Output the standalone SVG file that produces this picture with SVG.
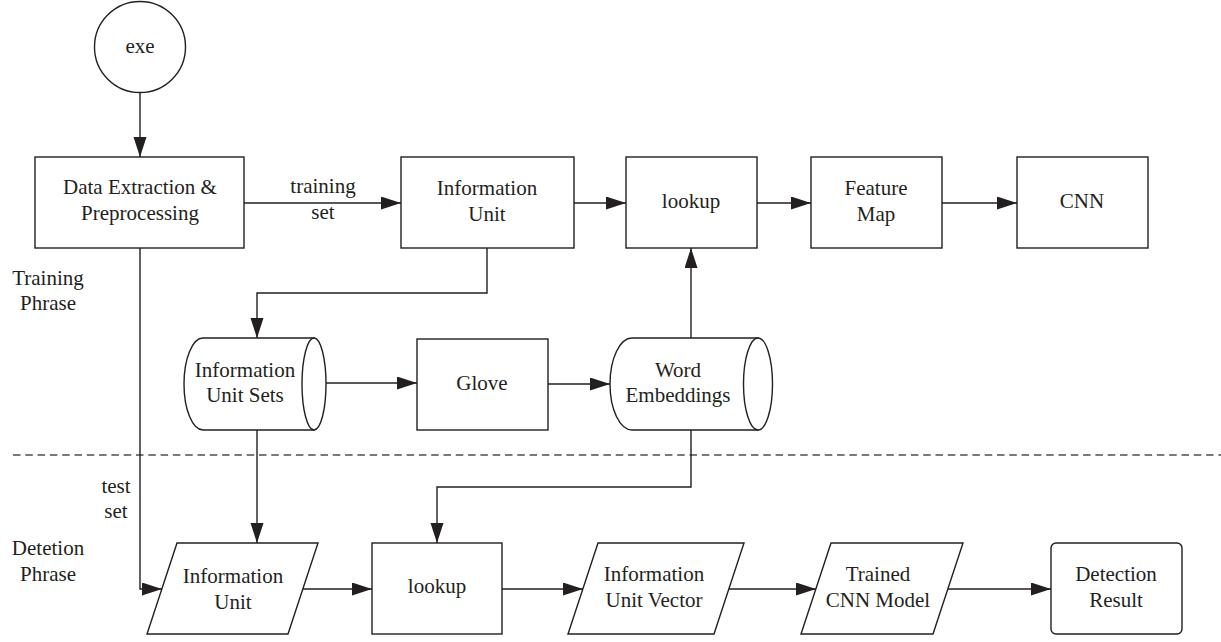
<svg xmlns="http://www.w3.org/2000/svg" width="1221" height="642" viewBox="0 0 1221 642">
<style>
.s{fill:#fff;stroke:#231f20;stroke-width:1.4}
.c{fill:none;stroke:#231f20;stroke-width:1.4}
.t{font-family:"Liberation Serif","Times New Roman",serif;font-size:21px;fill:#231f20;text-anchor:middle}
.d{fill:none;stroke:#4d4d4d;stroke-width:1.3;stroke-dasharray:7.5 4.8}
</style>
<defs>
<marker id="ah" markerUnits="userSpaceOnUse" markerWidth="21" markerHeight="14" refX="20" refY="6.5" orient="auto">
<path d="M0,0 L20,6.5 L0,13 z" fill="#231f20"/>
</marker>
</defs>
<rect width="1221" height="642" fill="#fff"/>
<g id="phases">
<line class="d" x1="13" y1="455" x2="1221" y2="455"/>
<text class="t" x="48" y="285">Training</text>
<text class="t" x="48" y="310">Phrase</text>
<text class="t" x="48" y="555">Detetion</text>
<text class="t" x="48" y="581">Phrase</text>
</g>
<g id="connectors">
<path class="c" d="M140,93 V157" marker-end="url(#ah)"/>
<path class="c" d="M244,203 H401" marker-end="url(#ah)"/>
<path class="c" d="M574,203 H626" marker-end="url(#ah)"/>
<path class="c" d="M757,203 H811" marker-end="url(#ah)"/>
<path class="c" d="M942,203 H1017" marker-end="url(#ah)"/>
<path class="c" d="M487,248 V293 H257 V338" marker-end="url(#ah)"/>
<path class="c" d="M326,383 H417" marker-end="url(#ah)"/>
<path class="c" d="M548,384 H610" marker-end="url(#ah)"/>
<path class="c" d="M691,338 V248" marker-end="url(#ah)"/>
<path class="c" d="M257,430 V543" marker-end="url(#ah)"/>
<path class="c" d="M691,430 V487 H437 V543" marker-end="url(#ah)"/>
<path class="c" d="M140,248 V589 H162" marker-end="url(#ah)"/>
<path class="c" d="M303,589 H372" marker-end="url(#ah)"/>
<path class="c" d="M502,589 H583" marker-end="url(#ah)"/>
<path class="c" d="M729,589 H816" marker-end="url(#ah)"/>
<path class="c" d="M948,589 H1051" marker-end="url(#ah)"/>
<text class="t" x="323" y="193">training</text>
<text class="t" x="323" y="219">set</text>
<text class="t" x="116" y="493">test</text>
<text class="t" x="116" y="518">set</text>
</g>
<g id="exe">
<circle class="s" cx="140" cy="47" r="45.5"/>
<text class="t" x="140" y="53">exe</text>
</g>
<g id="data-extraction">
<rect class="s" x="35" y="157" width="209" height="91"/>
<text class="t" x="140" y="194">Data Extraction &amp;</text>
<text class="t" x="140" y="220">Preprocessing</text>
</g>
<g id="information-unit">
<rect class="s" x="401" y="157" width="173" height="91"/>
<text class="t" x="487" y="195">Information</text>
<text class="t" x="487" y="221">Unit</text>
</g>
<g id="lookup">
<rect class="s" x="626" y="157" width="131" height="91"/>
<text class="t" x="691" y="208">lookup</text>
</g>
<g id="feature-map">
<rect class="s" x="811" y="157" width="131" height="91"/>
<text class="t" x="876" y="195">Feature</text>
<text class="t" x="876" y="221">Map</text>
</g>
<g id="cnn">
<rect class="s" x="1017" y="157" width="131" height="91"/>
<text class="t" x="1082" y="208">CNN</text>
</g>
<g id="information-unit-sets">
<path class="s" d="M314,338 H203 A19,46 0 0 0 203,430 H314 Z"/>
<ellipse class="s" cx="314" cy="384" rx="12" ry="46"/>
<text class="t" x="245" y="377">Information</text>
<text class="t" x="245" y="402">Unit Sets</text>
</g>
<g id="glove">
<rect class="s" x="417" y="339" width="131" height="91"/>
<text class="t" x="482" y="390">Glove</text>
</g>
<g id="word-embeddings">
<path class="s" d="M758,338 H632 A22,46 0 0 0 632,430 H758 Z"/>
<ellipse class="s" cx="758" cy="384" rx="14.5" ry="46"/>
<text class="t" x="678" y="377">Word</text>
<text class="t" x="678" y="402">Embeddings</text>
</g>
<g id="information-unit-detect">
<polygon class="s" points="177,543 318,543 288,634 147,634"/>
<text class="t" x="233" y="583">Information</text>
<text class="t" x="233" y="609">Unit</text>
</g>
<g id="lookup-detect">
<rect class="s" x="372" y="543" width="130" height="91"/>
<text class="t" x="437" y="593">lookup</text>
</g>
<g id="information-unit-vector">
<polygon class="s" points="598,543 744,543 714,634 568,634"/>
<text class="t" x="654" y="581">Information</text>
<text class="t" x="654" y="607">Unit Vector</text>
</g>
<g id="trained-cnn-model">
<polygon class="s" points="831,543 963,543 933,634 801,634"/>
<text class="t" x="878" y="581">Trained</text>
<text class="t" x="878" y="607">CNN Model</text>
</g>
<g id="detection-result">
<rect class="s" x="1051" y="543" width="131" height="91" rx="5"/>
<text class="t" x="1116" y="581">Detection</text>
<text class="t" x="1116" y="607">Result</text>
</g>
</svg>
